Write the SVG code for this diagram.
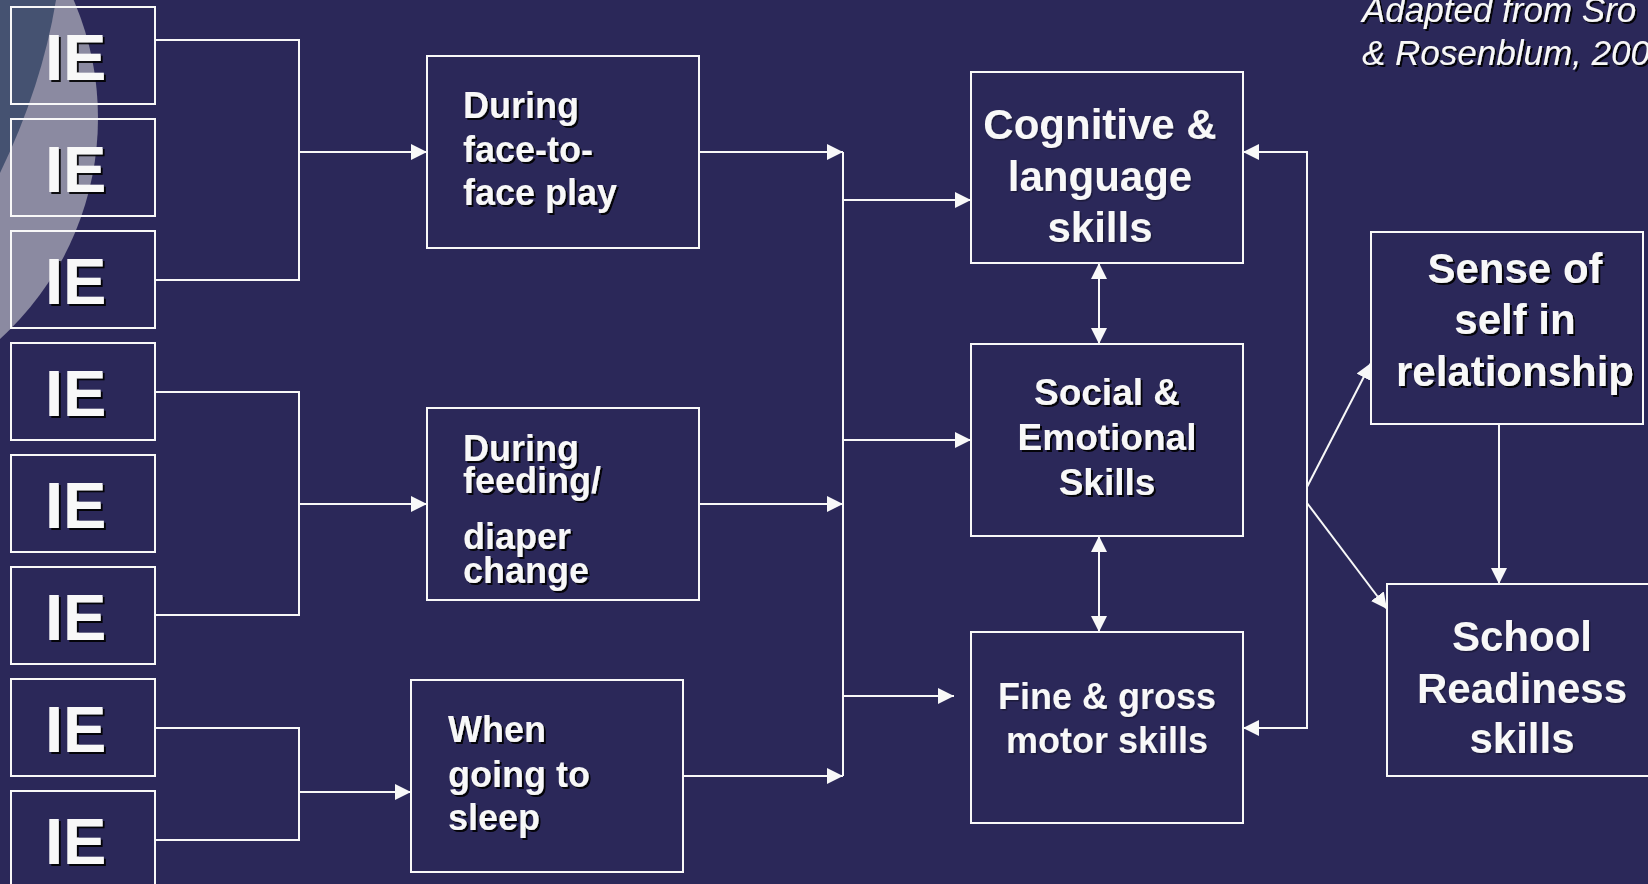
<svg xmlns="http://www.w3.org/2000/svg" width="1648" height="884" viewBox="0 0 1648 884">
<defs>
<marker id="ah" viewBox="0 0 16 16" refX="16" refY="8" markerWidth="16" markerHeight="16" markerUnits="userSpaceOnUse" orient="auto-start-reverse">
<path d="M0,0 L16,8 L0,16 Z" fill="#F8F8F8"/>
</marker>
<filter id="sh" x="-10%" y="-10%" width="130%" height="140%">
<feDropShadow dx="2" dy="2" stdDeviation="0.4" flood-color="#000" flood-opacity="0.9"/>
</filter>
<filter id="shl" x="-10%" y="-10%" width="130%" height="140%">
<feDropShadow dx="1.5" dy="1.5" stdDeviation="0.6" flood-color="#000" flood-opacity="0.35"/>
</filter>
</defs>
<style>
.box{fill:none;stroke:#F8F8F8;stroke-width:2}
.fbox{fill:#2B2859;stroke:#F8F8F8;stroke-width:2}
.ln{fill:none;stroke:#F8F8F8;stroke-width:2}
.ar{fill:none;stroke:#F8F8F8;stroke-width:2;marker-end:url(#ah)}
.ie{font-family:"Liberation Sans",Arial,sans-serif;font-weight:bold;font-size:65px;fill:#F8F8F8;filter:url(#sh)}
.t36{font-family:"Liberation Sans",Arial,sans-serif;font-weight:bold;font-size:36px;fill:#F8F8F8;filter:url(#sh)}
.t42{font-family:"Liberation Sans",Arial,sans-serif;font-weight:bold;font-size:42px;fill:#F8F8F8;text-anchor:middle}
.t37{font-family:"Liberation Sans",Arial,sans-serif;font-weight:bold;font-size:37px;fill:#F8F8F8;text-anchor:middle;filter:url(#sh)}
.dark{filter:url(#sh)}
.light{filter:url(#shl)}
.cite{font-family:"Liberation Sans",Arial,sans-serif;font-style:italic;font-size:35px;fill:#F8F8F8;filter:url(#sh)}
</style>
<rect width="1648" height="884" fill="#2B2859"/>
<g id="decoration">
<circle cx="-200" cy="118" r="298" fill="#8B8AA1"/>
<path d="M0,0 L56,0 Q42,86 0,173 Z" fill="#455271"/>
</g>
<g id="citation">
<text class="cite" x="1362" y="22">Adapted from Sro</text>
<text class="cite" x="1362" y="65">&amp; Rosenblum, 200</text>
</g>
<g id="ie1"><rect class="box" x="11" y="7" width="144" height="97"/><text class="ie" x="45" y="80">IE</text></g>
<g id="ie2"><rect class="box" x="11" y="119" width="144" height="97"/><text class="ie" x="45" y="192">IE</text></g>
<g id="ie3"><rect class="box" x="11" y="231" width="144" height="97"/><text class="ie" x="45" y="304">IE</text></g>
<g id="ie4"><rect class="box" x="11" y="343" width="144" height="97"/><text class="ie" x="45" y="416">IE</text></g>
<g id="ie5"><rect class="box" x="11" y="455" width="144" height="97"/><text class="ie" x="45" y="528">IE</text></g>
<g id="ie6"><rect class="box" x="11" y="567" width="144" height="97"/><text class="ie" x="45" y="640">IE</text></g>
<g id="ie7"><rect class="box" x="11" y="679" width="144" height="97"/><text class="ie" x="45" y="752">IE</text></g>
<g id="ie8"><rect class="box" x="11" y="791" width="144" height="97"/><text class="ie" x="45" y="864">IE</text></g>
<g id="connectors">
<polyline class="ln" points="155,40 299,40 299,280 155,280"/>
<line class="ar" x1="299" y1="152" x2="427" y2="152"/>
<polyline class="ln" points="155,392 299,392 299,615 155,615"/>
<line class="ar" x1="299" y1="504" x2="427" y2="504"/>
<polyline class="ln" points="155,728 299,728 299,840 155,840"/>
<line class="ar" x1="299" y1="792" x2="411" y2="792"/>
<line class="ar" x1="699" y1="152" x2="843" y2="152"/>
<line class="ar" x1="699" y1="504" x2="843" y2="504"/>
<line class="ar" x1="683" y1="776" x2="843" y2="776"/>
<line class="ln" x1="843" y1="152" x2="843" y2="776"/>
<line class="ar" x1="843" y1="200" x2="971" y2="200"/>
<line class="ar" x1="843" y1="440" x2="971" y2="440"/>
<line class="ar" x1="843" y1="696" x2="954" y2="696"/>
<line class="ar" x1="1099" y1="263" x2="1099" y2="344" style="marker-start:url(#ah)"/>
<line class="ar" x1="1099" y1="536" x2="1099" y2="632" style="marker-start:url(#ah)"/>
<polyline class="ar" points="1307,487 1307,152 1243,152"/>
<polyline class="ar" points="1307,487 1307,728 1243,728"/>
<line class="ar" x1="1307" y1="487" x2="1371" y2="363"/>
<line class="ar" x1="1307" y1="503" x2="1387" y2="609"/>
<line class="ar" x1="1499" y1="424" x2="1499" y2="584"/>
</g>
<g id="face">
<rect class="fbox" x="427" y="56" width="272" height="192"/>
<text class="t36" x="463" y="118">During</text>
<text class="t36" x="463" y="162">face-to-</text>
<text class="t36" x="463" y="205">face play</text>
</g>
<g id="feeding">
<rect class="fbox" x="427" y="408" width="272" height="192"/>
<text class="t36" x="463" y="461">During</text>
<text class="t36" x="463" y="493">feeding/</text>
<text class="t36" x="463" y="549">diaper</text>
<text class="t36" x="463" y="583">change</text>
</g>
<g id="sleep">
<rect class="fbox" x="411" y="680" width="272" height="192"/>
<text class="t36" x="448" y="742">When</text>
<text class="t36" x="448" y="787">going to</text>
<text class="t36" x="448" y="830">sleep</text>
</g>
<g id="cognitive">
<rect class="fbox" x="971" y="72" width="272" height="191"/>
<text class="t42 light" x="1100" y="139">Cognitive &amp;</text>
<text class="t42 light" x="1100" y="191">language</text>
<text class="t42 light" x="1100" y="242">skills</text>
</g>
<g id="social">
<rect class="fbox" x="971" y="344" width="272" height="192"/>
<text class="t37" x="1107" y="405">Social &amp;</text>
<text class="t37" x="1107" y="450">Emotional</text>
<text class="t37" x="1107" y="495">Skills</text>
</g>
<g id="fine">
<rect class="fbox" x="971" y="632" width="272" height="191"/>
<text class="t42 light" style="font-size:36px" x="1107" y="709">Fine &amp; gross</text>
<text class="t42 light" style="font-size:36px" x="1107" y="753">motor skills</text>
</g>
<g id="sense">
<rect class="fbox" x="1371" y="232" width="272" height="192"/>
<text class="t42 dark" x="1515" y="283">Sense of</text>
<text class="t42 dark" x="1515" y="334">self in</text>
<text class="t42 dark" x="1515" y="386">relationship</text>
</g>
<g id="school">
<rect class="fbox" x="1387" y="584" width="280" height="192"/>
<text class="t42 light" x="1522" y="651">School</text>
<text class="t42 light" x="1522" y="703">Readiness</text>
<text class="t42 light" x="1522" y="753">skills</text>
</g>
</svg>
